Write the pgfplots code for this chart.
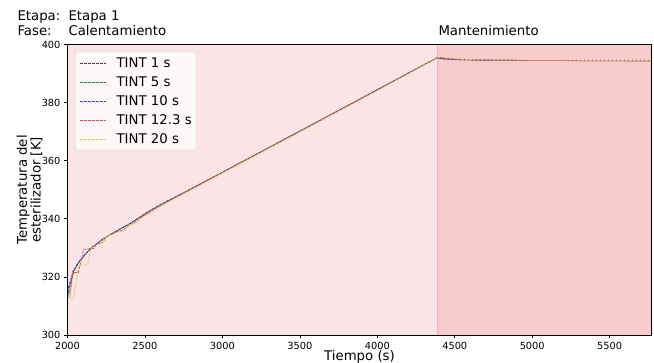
\documentclass[border=0pt]{standalone}
\usepackage{pgfplots}
\pgfplotsset{compat=1.18}
\usepackage{fontspec}
\setmainfont{DejaVu Sans}
\definecolor{bgA}{RGB}{251,228,229}
\definecolor{bgB}{RGB}{248,203,205}
\definecolor{bgL}{RGB}{240,180,182}
\definecolor{cK}{RGB}{64,64,64}
\definecolor{cG}{RGB}{40,130,70}
\definecolor{cB}{RGB}{40,80,200}
\definecolor{cR}{RGB}{235,70,70}
\definecolor{cY}{RGB}{215,205,90}
\begin{document}
\begin{tikzpicture}
\useasboundingbox (0,0) rectangle (654pt,363pt);
\begin{axis}[
  at={(67.5pt,28pt)}, anchor=south west,
  scale only axis, width=584pt, height=290.5pt,
  xmin=2000, xmax=5770, ymin=300, ymax=400,
  xtick={2000,2500,...,5500}, ytick={300,320,...,400},
  xtick pos=left, ytick pos=left,
  tick align=outside, major tick length=3.5pt,
  tick style={black, line width=0.6pt},
  axis line style={line width=0.8pt},
  ticklabel style={font=\fontsize{9.8}{11}\selectfont},
  /pgf/number format/assume math mode=true,
  /pgf/number format/1000 sep={},
  xlabel={Tiempo (s)},
  xlabel style={font=\fontsize{13.3}{15}\selectfont, at={(rel axis cs:0.5,0)}, anchor=base, yshift=-26pt},
  axis on top,
  legend cell align=left,
  legend image code/.code={\draw[#1] (0pt,0pt) -- (26.4pt,0pt);},
  legend style={at={(rel axis cs:0.0128,0.975)}, anchor=north west,
    draw=black!18, fill=white, fill opacity=0.8, text opacity=1, rounded corners=2pt,
    font=\fontsize{13.3}{16}\selectfont,
    inner xsep=4.3pt, inner ysep=6pt, column sep=10pt, row sep=9pt,
    nodes={inner sep=0pt, text height=10pt, text depth=0pt}},
  every axis plot/.append style={line width=0.7pt, dash pattern=on 2.8pt off 1.2pt},
]
\addplot[draw=none, fill=bgA, forget plot, solid] coordinates {(2000,300) (4387,300) (4387,400) (2000,400)} -- cycle;
\addplot[draw=none, fill=bgB, forget plot, solid] coordinates {(4387,300) (5770,300) (5770,400) (4387,400)} -- cycle;
\addplot[bgL, solid, line width=0.6pt, forget plot] coordinates {(4387,300) (4387,400)};

\addplot[cK] coordinates {(2000,313.2)(2010,316)(2020,318.5)(2030,320.5)(2040,322.2)(2060,324.2)(2080,325.7)(2100,326.9)(2120,328.1)(2140,329.3)(2160,330.3)(2180,331.1)(2200,331.9)(2230,333.1)(2260,334.1)(2300,335.3)(2350,336.9)(2400,338.3)(2450,340)(2500,341.8)(2550,343.4)(2600,344.9)(2650,346.3)(2700,347.6)(2750,348.9)(2800,350.4)(2900,353.2)(3000,356.0)(3100,358.9)(3200,361.7)(3300,364.5)(3400,367.4)(3500,370.2)(3600,373.0)(3700,375.9)(3800,378.7)(3900,381.6)(4000,384.5)(4100,387.3)(4200,390.2)(4300,393.0)(4385,395.4)(4420,395.1)(4500,394.8)(4600,394.7)(4800,394.6)(5000,394.5)(5200,394.5)(5400,394.4)(5600,394.4)(5770,394.4)};
\addlegendentry{TINT 1 s}
\addplot[cG] coordinates {(2000,312.8)(2015,315.5)(2030,319.5)(2045,322.3)(2065,324.2)(2085,325.9)(2105,327)(2125,328.3)(2145,329.5)(2170,330.7)(2200,331.8)(2240,333.3)(2280,334.7)(2330,336.2)(2380,337.6)(2430,339.2)(2480,341)(2530,342.6)(2600,344.7)(2700,347.5)(2800,350.3)(3000,355.9)(3500,370.1)(4000,384.4)(4385,395.4)(4420,395.2)(4500,394.8)(4700,394.6)(5000,394.5)(5300,394.5)(5770,394.4)};
\addlegendentry{TINT 5 s}
\addplot[cB] coordinates {(2000,313.5)(2008,317)(2025,319.5)(2035,322)(2055,323.5)(2070,324.8)(2090,326.3)(2110,327.6)(2135,329)(2160,330.2)(2190,331.5)(2220,332.7)(2260,334.1)(2300,335.2)(2350,336.8)(2400,338.2)(2450,339.9)(2500,341.7)(2600,344.8)(2700,347.6)(2800,350.4)(3000,356.0)(3500,370.2)(4000,384.4)(4385,395.4)(4430,395.0)(4500,394.8)(4700,394.6)(5000,394.5)(5400,394.4)(5770,394.4)};
\addlegendentry{TINT 10 s}
\addplot[cR] coordinates {(2000,313)(2015,313)(2035,321.5)(2070,321.5)(2085,325)(2105,329.5)(2170,329.8)(2185,331)(2230,332)(2250,333.8)(2290,334.8)(2330,335.8)(2360,336.2)(2390,337.5)(2420,338.4)(2460,339.6)(2500,341.4)(2550,343)(2600,344.6)(2700,347.4)(2800,350.3)(3000,356.0)(3500,370.1)(4000,384.4)(4385,395.3)(4400,395.6)(4450,395.2)(4550,394.8)(4700,394.6)(5000,394.5)(5400,394.5)(5770,394.4)};
\addlegendentry{TINT 12.3 s}
\addplot[cY] coordinates {(2000,312.8)(2040,312.8)(2060,320.5)(2075,324)(2130,324.2)(2150,329.5)(2175,331.2)(2220,331.2)(2250,334)(2290,334.6)(2330,335.5)(2360,335.7)(2390,337.8)(2430,338.3)(2480,340.5)(2530,341.8)(2560,342.5)(2600,344.3)(2700,347.2)(2800,350.0)(3000,355.7)(3500,369.9)(4000,384.1)(4385,395.3)(4410,395.7)(4460,395.3)(4550,394.9)(4700,394.7)(5000,394.6)(5400,394.5)(5770,394.5)};
\addlegendentry{TINT 20 s}
\end{axis}
\begin{scope}[every node/.style={font=\fontsize{13.3}{15}\selectfont, inner sep=0pt, anchor=base west}]
\node at (17.3pt,342.3pt) {Etapa:};
\node at (68.3pt,342.3pt) {Etapa 1};
\node at (17.3pt,327.3pt) {Fase:};
\node at (68.3pt,327.3pt) {Calentamiento};
\node at (438.3pt,327.3pt) {Mantenimiento};
\end{scope}
\node[rotate=90, align=center, inner sep=0pt, font=\fontsize{13.3}{13.8}\selectfont] at (29.5pt,173.2pt) {Temperatura del\\esterilizador [K]};
\end{tikzpicture}
\end{document}
